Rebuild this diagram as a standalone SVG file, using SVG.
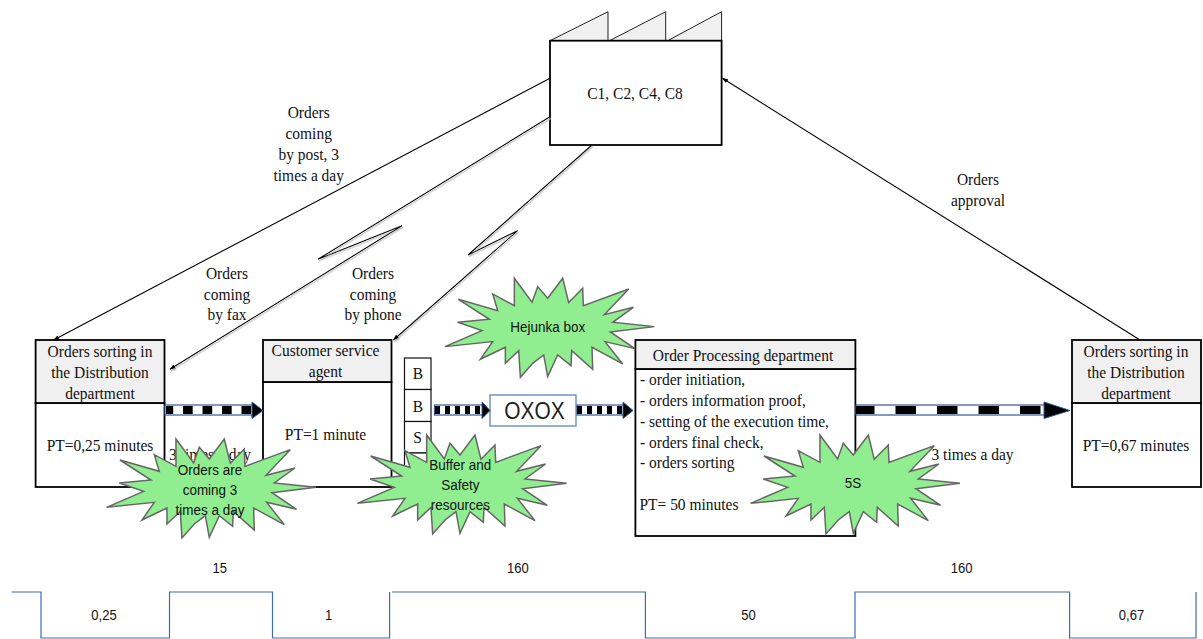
<svg xmlns="http://www.w3.org/2000/svg" width="1203" height="639" viewBox="0 0 1203 639">
<style>
text{transform-box:fill-box;transform-origin:center}
.s{font-family:"Liberation Serif","Times New Roman",serif;font-size:17px;fill:#111;transform:scaleX(.91)}
.l{transform-origin:left center}
.a{font-family:"Liberation Sans",Arial,sans-serif;font-size:14.5px;fill:#111;transform:scaleX(.9)}
.st{font-family:"Liberation Sans",Arial,sans-serif;font-size:14.5px;fill:#111;transform:scaleX(.93)}
.m{text-anchor:middle}
.box{fill:#fff;stroke:#000;stroke-width:1.8}
.hd{fill:#f0f0f0;stroke:#000;stroke-width:1.8}
.tooth{fill:#f0f0f0;stroke:#222;stroke-width:1}
.cell{fill:#fff;stroke:#111;stroke-width:1.2}
.ln{fill:none;stroke:#000;stroke-width:1.1}
.tl{fill:none;stroke:#3f6dab;stroke-width:1.2}
.star{fill:#90ee90;stroke:#666;stroke-width:4.5;stroke-linejoin:miter}
.sh{fill:#fff;stroke:#2f5b94;stroke-width:1.2}
.hdA{fill:#000;stroke:#2f5b94;stroke-width:1}
.d{fill:none;stroke:#000;stroke-width:8}
</style>
<defs>
<marker id="ah" markerWidth="6" markerHeight="6" refX="5.5" refY="3" orient="auto" markerUnits="userSpaceOnUse"><path d="M0 0.8L6 3L0 5.2z" fill="#000"/></marker>
<filter id="soft" x="-5%" y="-5%" width="110%" height="110%"><feDropShadow dx="1" dy="1.5" stdDeviation="0.5" flood-color="#bbb"/></filter>
<polygon id="starShape" points="230,15 283,87 300,40 330,75 375,15 393,88 435,45 437,97 573,47 500,124 587,102 525,147 650,160 518,176 592,226 502,205 555,272 463,222 465,288 402,232 400,277 360,245 330,310 318,245 285,270 248,312 243,232 203,270 203,222 128,258 165,205 22,220 133,172 60,147 155,138 62,78 180,112 165,62 230,97"/>
</defs>

<g id="factory">
<polygon class="tooth" points="550,40.7 608,11.7 608,40.7"/>
<polygon class="tooth" points="609.5,40.7 665.7,11.7 665.7,40.7"/>
<polygon class="tooth" points="667.7,40.7 721.6,11.7 721.6,40.7"/>
<rect class="box" x="550" y="40.7" width="171.6" height="104.3"/>
<text class="s m" x="635" y="98.5">C1, C2, C4, C8</text>
</g>

<g id="connectors">
<path class="ln" d="M550 78.3L53.6 340" marker-end="url(#ah)"/>
<path class="ln" filter="url(#soft)" d="M550 116.7L318 259.3L402 225.7L170 369.3" marker-end="url(#ah)"/>
<path class="ln" filter="url(#soft)" d="M592 145L468 255L517.6 230.7L393.4 340" marker-end="url(#ah)"/>
<path class="ln" d="M1140 340L722.5 78.3" marker-end="url(#ah)"/>
</g>

<g id="labels">
<text class="s m" x="308.7" y="118">Orders</text>
<text class="s m" x="308.7" y="139">coming</text>
<text class="s m" x="308.7" y="160">by post, 3</text>
<text class="s m" x="308.7" y="181">times a day</text>
<text class="s m" x="227" y="279">Orders</text>
<text class="s m" x="227" y="300">coming</text>
<text class="s m" x="227" y="320">by fax</text>
<text class="s m" x="373" y="279">Orders</text>
<text class="s m" x="373" y="300">coming</text>
<text class="s m" x="373" y="320">by phone</text>
<text class="s m" x="978" y="185">Orders</text>
<text class="s m" x="978" y="206">approval</text>
<text class="s l" x="169" y="460">3 times a day</text>
<text class="s l" x="931.5" y="460">3 times a day</text>
</g>

<g id="box-distribution-1">
<rect class="box" x="35.6" y="403" width="128.9" height="84"/>
<rect class="hd" x="35.6" y="340" width="128.9" height="63"/>
<text class="s m" x="100" y="357">Orders sorting in</text>
<text class="s m" x="100" y="378">the Distribution</text>
<text class="s m" x="100" y="399">department</text>
<text class="s m" x="100" y="451">PT=0,25 minutes</text>
</g>

<g id="box-customer-service">
<rect class="box" x="263" y="382" width="128.5" height="105"/>
<rect class="hd" x="263" y="340" width="128.5" height="42"/>
<text class="s m" x="325.5" y="356">Customer service</text>
<text class="s m" x="325.5" y="377">agent</text>
<text class="s m" x="325.5" y="440">PT=1 minute</text>
</g>

<g id="buffer">
<rect class="cell" x="404.5" y="358" width="26.5" height="31.5"/>
<rect class="cell" x="404.5" y="389.5" width="26.5" height="32"/>
<rect class="cell" x="404.5" y="421.5" width="26.5" height="31.5"/>
<rect class="cell" x="404.5" y="453" width="26.5" height="31"/>
<text class="s m" x="418" y="379">B</text>
<text class="s m" x="418" y="412">B</text>
<text class="s m" x="417.5" y="443">S</text>
</g>

<g id="box-order-processing">
<rect class="box" x="635.4" y="369" width="220" height="167"/>
<rect class="hd" x="635.4" y="340" width="220" height="29"/>
<text class="s m" x="743" y="361">Order Processing department</text>
<text class="s l" x="640" y="385">- order initiation,</text>
<text class="s l" x="640" y="406">- orders information proof,</text>
<text class="s l" x="640" y="427">- setting of the execution time,</text>
<text class="s l" x="640" y="448">- orders final check,</text>
<text class="s l" x="640" y="468">- orders sorting</text>
<text class="s l" x="639.5" y="510">PT= 50 minutes</text>
</g>

<g id="box-distribution-2">
<rect class="box" x="1072" y="403" width="129" height="84"/>
<rect class="hd" x="1072" y="340" width="129" height="63"/>
<text class="s m" x="1136" y="357">Orders sorting in</text>
<text class="s m" x="1136" y="378">the Distribution</text>
<text class="s m" x="1136" y="399">department</text>
<text class="s m" x="1136" y="451">PT=0,67 minutes</text>
</g>

<g id="oxox">
<rect x="490" y="395" width="86" height="31" fill="#fff" stroke="#4f7ab0" stroke-width="1.2"/>
<text x="534.5" y="419" text-anchor="middle" font-family="'Liberation Sans',Arial,sans-serif" font-size="23.5" fill="#222" style="transform:scaleX(.89)">OXOX</text>
</g>

<g id="push-arrows">
<rect class="sh" x="165" y="405" width="88" height="10"/>
<path class="d" d="M166 410H253" stroke-dasharray="9.7 9.8" stroke-dashoffset="2.5"/>
<polygon class="hdA" points="252,402 263,410.5 252,418.5"/>
<rect class="sh" x="434.5" y="405" width="50" height="10"/>
<path class="d" d="M435 410H484" stroke-dasharray="5 5"/>
<polygon class="hdA" points="482,402 490,410.5 482,418.5"/>
<rect class="sh" x="577" y="405" width="47" height="10"/>
<path class="d" d="M577 410H624" stroke-dasharray="5 5"/>
<polygon class="hdA" points="623,402 633,410.5 623,418.5"/>
<rect class="sh" x="856" y="405" width="189" height="10"/>
<path class="d" d="M856 410H1045" stroke-dasharray="20.5 21" stroke-dashoffset="2"/>
<polygon class="hdA" points="1044,402 1070,410.5 1044,418.5"/>
</g>

<g id="burst-orders">
<use href="#starShape" class="star" transform="translate(99.3 434) scale(.3333)"/>
<text class="st m" x="210" y="475.5">Orders are</text>
<text class="st m" x="210" y="495">coming 3</text>
<text class="st m" x="210" y="515">times a day</text>
</g>
<g id="burst-buffer">
<use href="#starShape" class="star" transform="translate(350 430) scale(.3333)"/>
<text class="st m" x="460.3" y="470.5">Buffer and</text>
<text class="st m" x="460.3" y="490">Safety</text>
<text class="st m" x="460.3" y="510">resources</text>
</g>
<g id="burst-hejunka">
<use href="#starShape" class="star" transform="translate(437.7 273.3) scale(.3333)"/>
<text class="st m" x="547.7" y="332">Hejunka box</text>
</g>
<g id="burst-5s">
<use href="#starShape" class="star" transform="translate(743.3 430) scale(.3333)"/>
<text class="st m" x="853" y="488">5S</text>
</g>

<g id="timeline">
<path class="tl" d="M11.5 592H41V638H169.5V592H272.5V638H389.6V592M392 592H645.4V638H855V592H1069.6V638H1196V592"/>
<text class="a m" x="219.7" y="573">15</text>
<text class="a m" x="517.8" y="573">160</text>
<text class="a m" x="961.5" y="573">160</text>
<text class="a m" x="104" y="620">0,25</text>
<text class="a m" x="328.7" y="620">1</text>
<text class="a m" x="748.5" y="620">50</text>
<text class="a m" x="1131.5" y="620">0,67</text>
</g>
</svg>
